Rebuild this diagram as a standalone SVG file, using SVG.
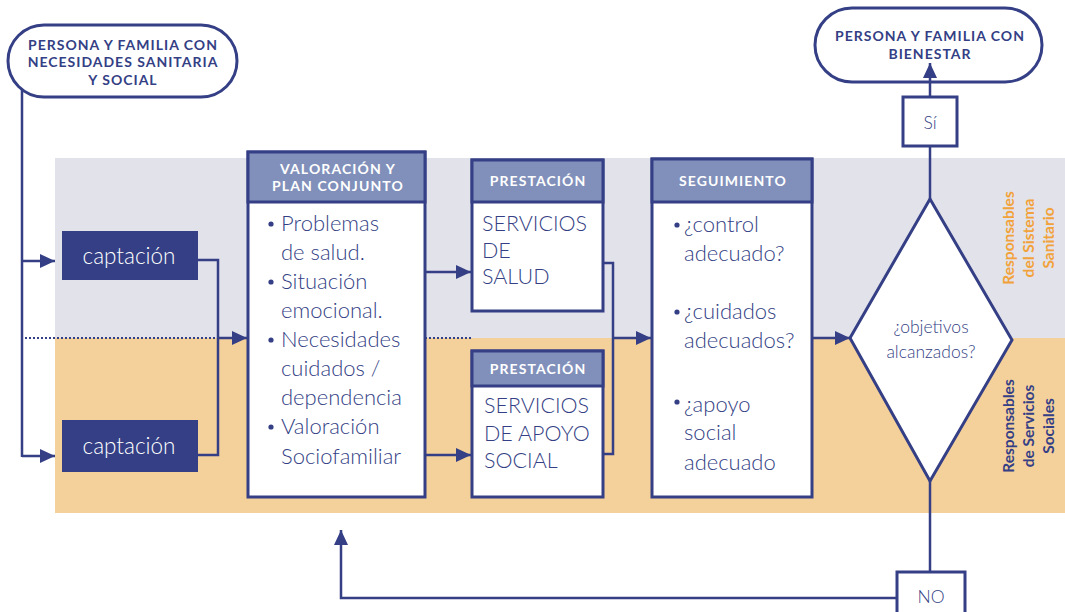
<svg xmlns="http://www.w3.org/2000/svg" width="1065" height="612" viewBox="0 0 1065 612">
<defs>
<marker id="arr" markerUnits="userSpaceOnUse" markerWidth="15" markerHeight="14" refX="15" refY="7" orient="auto">
<path d="M0,0 L15,7 L0,14 z" fill="#343f85"/>
</marker>
</defs>
<style>
.box{fill:#fff;stroke:#343f85;stroke-width:3}
.hdr{fill:#8190ba;stroke:#343f85;stroke-width:3}
.dark{fill:#343f85}
.ht{font-family:Lato,"Open Sans",sans-serif;font-weight:700;font-size:14px;letter-spacing:1.1px;fill:#fff;text-anchor:middle}
.nt{font-family:Lato,"Open Sans",sans-serif;font-weight:700;font-size:14px;letter-spacing:1px;fill:#343f85;text-anchor:middle}
.bt{font-family:Lato,"Noto Sans",sans-serif;font-weight:300;font-size:22px;fill:#343f85}
.pt{font-family:Lato,"Noto Sans",sans-serif;font-weight:300;font-size:21.5px;fill:#343f85}
.ct{font-family:Lato,"Noto Sans",sans-serif;font-weight:300;font-size:22.5px;fill:#fff;text-anchor:middle}
.dt{font-family:Lato,"Noto Sans",sans-serif;font-weight:300;font-size:17.5px;fill:#343f85;text-anchor:middle}
.st{font-family:Lato,"Open Sans",sans-serif;font-weight:700;font-size:15.5px;text-anchor:middle}
.ln{fill:none;stroke:#343f85;stroke-width:2.5}
.dot{fill:none;stroke:#343f85;stroke-width:2;stroke-dasharray:2 2}
</style>
<rect x="55" y="158" width="1010" height="180" fill="#e2e2eb"/>
<rect x="55" y="338" width="1010" height="175" fill="#f4d09b"/>

<g id="side-labels">
<g class="st" fill="#f2a23a">
<text transform="translate(1014,238) rotate(-90)">Responsables</text>
<text transform="translate(1034,238) rotate(-90)">del Sistema</text>
<text transform="translate(1054,238) rotate(-90)">Sanitario</text>
</g>
<g class="st" fill="#343f85">
<text transform="translate(1014,426) rotate(-90)">Responsables</text>
<text transform="translate(1034,426) rotate(-90)">de Servicios</text>
<text transform="translate(1054,426) rotate(-90)">Sociales</text>
</g>
</g>

<g id="start">
<rect class="box" x="8" y="25" width="229" height="72" rx="36"/>
<text class="nt" x="123" y="50">PERSONA Y FAMILIA CON</text>
<text class="nt" x="123" y="67">NECESIDADES SANITARIA</text>
<text class="nt" x="123" y="85">Y SOCIAL</text>
</g>

<g id="end">
<rect class="box" x="815" y="8" width="227" height="74" rx="37"/>
<text class="nt" x="930" y="41">PERSONA Y FAMILIA CON</text>
<text class="nt" x="930" y="59">BIENESTAR</text>
</g>

<g id="captacion1">
<rect class="dark" x="62" y="231" width="136" height="49"/>
<text class="ct" x="129" y="264">captación</text>
</g>
<g id="captacion2">
<rect class="dark" x="62" y="420" width="136" height="52"/>
<text class="ct" x="129" y="454">captación</text>
</g>

<g id="valoracion">
<rect class="box" x="248" y="152" width="177" height="345"/>
<rect class="hdr" x="248" y="152" width="177" height="50"/>
<text class="ht" x="338" y="174">VALORACIÓN Y</text>
<text class="ht" x="338" y="191">PLAN CONJUNTO</text>
<g class="dark">
<circle cx="271" cy="224" r="2.6"/><circle cx="271" cy="282" r="2.6"/><circle cx="271" cy="340" r="2.6"/><circle cx="271" cy="427" r="2.6"/>
</g>
<text class="bt" x="281" y="231">Problemas</text>
<text class="bt" x="281" y="260">de salud.</text>
<text class="bt" x="281" y="289">Situación</text>
<text class="bt" x="281" y="318">emocional.</text>
<text class="bt" x="281" y="347">Necesidades</text>
<text class="bt" x="281" y="376">cuidados /</text>
<text class="bt" x="281" y="405">dependencia</text>
<text class="bt" x="281" y="434">Valoración</text>
<text class="bt" x="281" y="464">Sociofamiliar</text>
</g>

<g id="prestacion-salud">
<rect class="box" x="472" y="160" width="131" height="151"/>
<rect class="hdr" x="472" y="160" width="131" height="42"/>
<text class="ht" x="538" y="186">PRESTACIÓN</text>
<text class="pt" x="482" y="231">SERVICIOS</text>
<text class="pt" x="482" y="258">DE</text>
<text class="pt" x="482" y="284">SALUD</text>
</g>

<g id="prestacion-social">
<rect class="box" x="472" y="351" width="131" height="146"/>
<rect class="hdr" x="472" y="351" width="131" height="35"/>
<text class="ht" x="538" y="374">PRESTACIÓN</text>
<text class="pt" x="484" y="413">SERVICIOS</text>
<text class="pt" x="484" y="441">DE APOYO</text>
<text class="pt" x="484" y="468">SOCIAL</text>
</g>

<g id="seguimiento">
<rect class="box" x="652" y="159" width="160" height="338"/>
<rect class="hdr" x="652" y="159" width="160" height="43"/>
<text class="ht" x="733" y="186">SEGUIMIENTO</text>
<g class="dark">
<circle cx="677" cy="225" r="2.6"/><circle cx="677" cy="312" r="2.6"/><circle cx="677" cy="402" r="2.6"/>
</g>
<text class="bt" x="684" y="232">¿control</text>
<text class="bt" x="684" y="261">adecuado?</text>
<text class="bt" x="684" y="319">¿cuidados</text>
<text class="bt" x="684" y="348">adecuados?</text>
<text class="bt" x="684" y="412">¿apoyo</text>
<text class="bt" x="684" y="440">social</text>
<text class="bt" x="684" y="470">adecuado</text>
</g>

<g id="decision">
<polygon class="box" points="930,199 1012,340 930,481 850,338"/>
<text class="dt" x="931" y="333">¿objetivos</text>
<text class="dt" x="931" y="358">alcanzados?</text>
</g>

<g id="si">
<rect class="box" x="903" y="97" width="54" height="49"/>
<text class="dt" x="930" y="129" font-size="21">Sí</text>
</g>

<g id="no">
<rect class="box" x="897" y="572" width="68" height="45"/>
<text class="dt" x="931" y="603" font-size="21">NO</text>
</g>

<g id="connectors">
<path class="ln" d="M22,89 V457"/>
<path class="ln" d="M22,261 H55" marker-end="url(#arr)"/>
<path class="ln" d="M22,456 H55" marker-end="url(#arr)"/>
<path class="ln" d="M198,260 H218 V455 H198"/>
<path class="dot" d="M25,338 H218"/>
<path class="ln" d="M218,338 H247" marker-end="url(#arr)"/>
<path class="dot" d="M425,338 H472"/>
<path class="ln" d="M425,272 H471" marker-end="url(#arr)"/>
<path class="ln" d="M425,455 H471" marker-end="url(#arr)"/>
<path class="ln" d="M603,263 H613 V454 H603"/>
<path class="ln" d="M613,338 H651" marker-end="url(#arr)"/>
<path class="ln" d="M812,338 H850" marker-end="url(#arr)"/>
<path class="ln" d="M930,199 V146"/>
<path class="ln" d="M930,97 V63" marker-end="url(#arr)"/>
<path class="ln" d="M930,481 V572"/>
<path class="ln" d="M897,598 H341 V530" marker-end="url(#arr)"/>
</g>
</svg>
